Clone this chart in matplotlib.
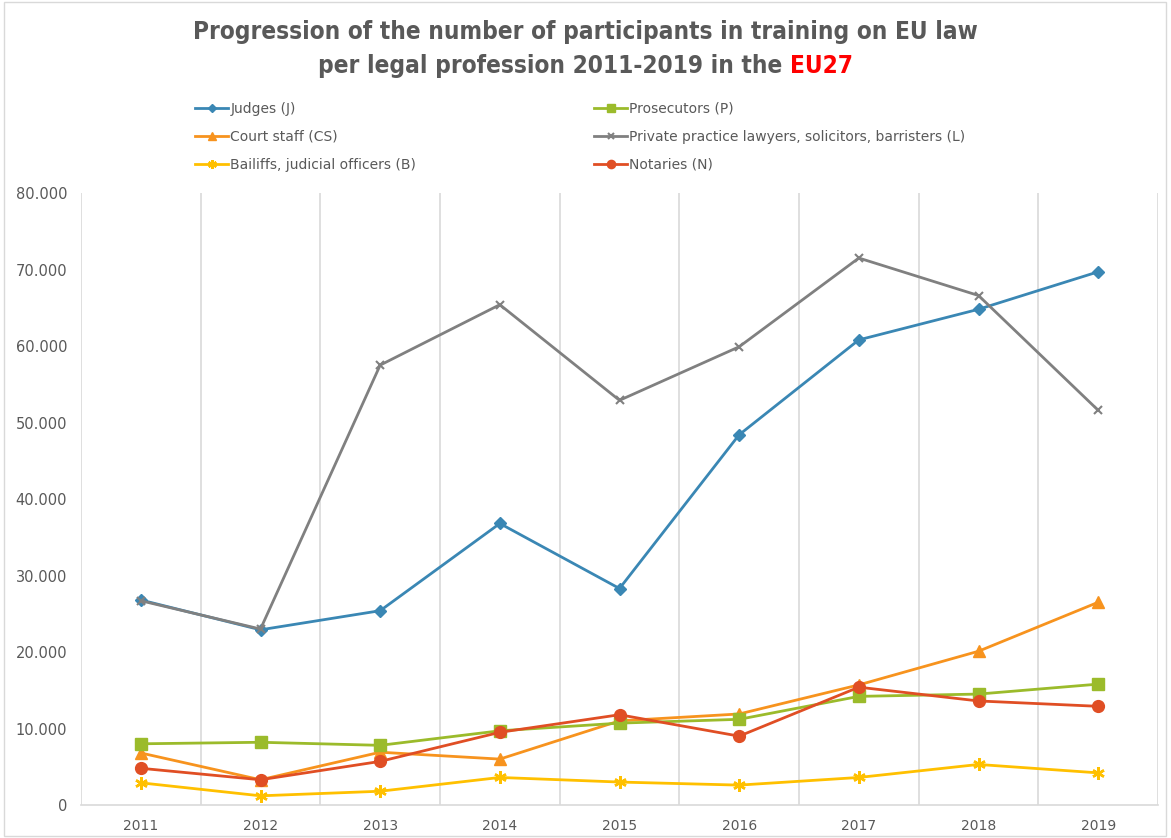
import matplotlib
matplotlib.use("Agg")
import matplotlib.pyplot as plt
from matplotlib.ticker import FuncFormatter
from matplotlib.patches import Rectangle

plt.rcParams["font.family"] = ["DejaVu Sans"]

years = ["2011", "2012", "2013", "2014", "2015", "2016", "2017", "2018", "2019"]

judges = [26800, 22900, 25400, 36800, 28300, 48400, 60800, 64800, 69700]
prosecutors = [8000, 8200, 7800, 9700, 10700, 11200, 14200, 14500, 15800]
court_staff = [6800, 3300, 6900, 6000, 11000, 11900, 15700, 20100, 26500]
lawyers = [26700, 23000, 57500, 65400, 52900, 59900, 71500, 66600, 51600]
bailiffs = [2900, 1200, 1800, 3600, 3000, 2600, 3600, 5300, 4200]
notaries = [4800, 3300, 5700, 9500, 11800, 9000, 15400, 13600, 12900]

TXT = "#595959"

fig = plt.figure(figsize=(11.71, 8.38), dpi=100)
ax = fig.add_axes([81 / 1171, 33 / 838, 1077 / 1171, 612 / 838])

x = range(len(years))
lw = 2.0
ax.plot(x, judges, color="#3a87b4", lw=lw, marker="D", ms=6, label="Judges (J)")
ax.plot(x, court_staff, color="#f7931e", lw=lw, marker="^", ms=8, label="Court staff (CS)")
ax.plot(x, bailiffs, color="#ffc000", lw=lw, marker=(6, 2, 0), ms=9, mew=1.8,
        label="Bailiffs, judicial officers (B)")
ax.plot(x, prosecutors, color="#9bbb2b", lw=lw, marker="s", ms=8, label="Prosecutors (P)")
ax.plot(x, lawyers, color="#808080", lw=lw, marker="x", ms=6, mew=1.5,
        label="Private practice lawyers, solicitors, barristers (L)")
ax.plot(x, notaries, color="#e04e24", lw=lw, marker="o", ms=8.5, label="Notaries (N)")

ax.set_xlim(-0.5, len(years) - 0.5)
ax.set_ylim(0, 80000)
ax.set_yticks(range(0, 80001, 10000))
ax.yaxis.set_major_formatter(FuncFormatter(lambda v, p: f"{int(v):,}".replace(",", ".")))
ax.set_xticks(list(x))
ax.set_xticklabels(years)
for b in [i - 0.5 for i in range(len(years) + 1)]:
    ax.axvline(b, color="#d9d9d9", lw=1.2, zorder=0)

for s in ["top", "right", "left"]:
    ax.spines[s].set_visible(False)
ax.spines["bottom"].set_color("#d9d9d9")
ax.spines["bottom"].set_linewidth(1.2)
ax.tick_params(length=0, colors=TXT, labelsize=10.5, pad=10)
ax.tick_params(axis="y", pad=10)
for lab in ax.get_xticklabels():
    lab.set_fontsize(10)

leg = fig.legend(loc="upper left", bbox_to_anchor=(195 / 1171, 1 - 102 / 838), ncol=2,
                 frameon=False, fontsize=10, handlelength=2.4, handletextpad=0.15,
                 columnspacing=12.8, labelspacing=1.0, borderpad=0, borderaxespad=0,
                 markerscale=0.7)
for t in leg.get_texts():
    t.set_color(TXT)

title_kw = dict(fontsize=17.5, fontweight="bold", color=TXT, family="DejaVu Sans",
                fontstretch="condensed", va="center")
fig.text(0.5, 1 - 32 / 838, "Progression of the number of participants in training on EU law",
         ha="center", **title_kw)
r = fig.canvas.get_renderer()
t1 = fig.text(0, 1 - 66 / 838, "per legal profession 2011-2019 in the ", ha="left", **title_kw)
t2 = fig.text(0, 1 - 66 / 838, "EU27", ha="left", **{**title_kw, "color": "#ff0000"})
w1 = t1.get_window_extent(r).width / fig.bbox.width
w2 = t2.get_window_extent(r).width / fig.bbox.width
x0 = 0.5 - (w1 + w2) / 2
t1.set_x(x0)
t2.set_x(x0 + w1)

fig.patches.append(Rectangle((4 / 1171, 0.002), 1162 / 1171, 0.996, transform=fig.transFigure,
                             fill=False, edgecolor="#d9d9d9", lw=1))

fig.savefig("out.png", dpi=100)
